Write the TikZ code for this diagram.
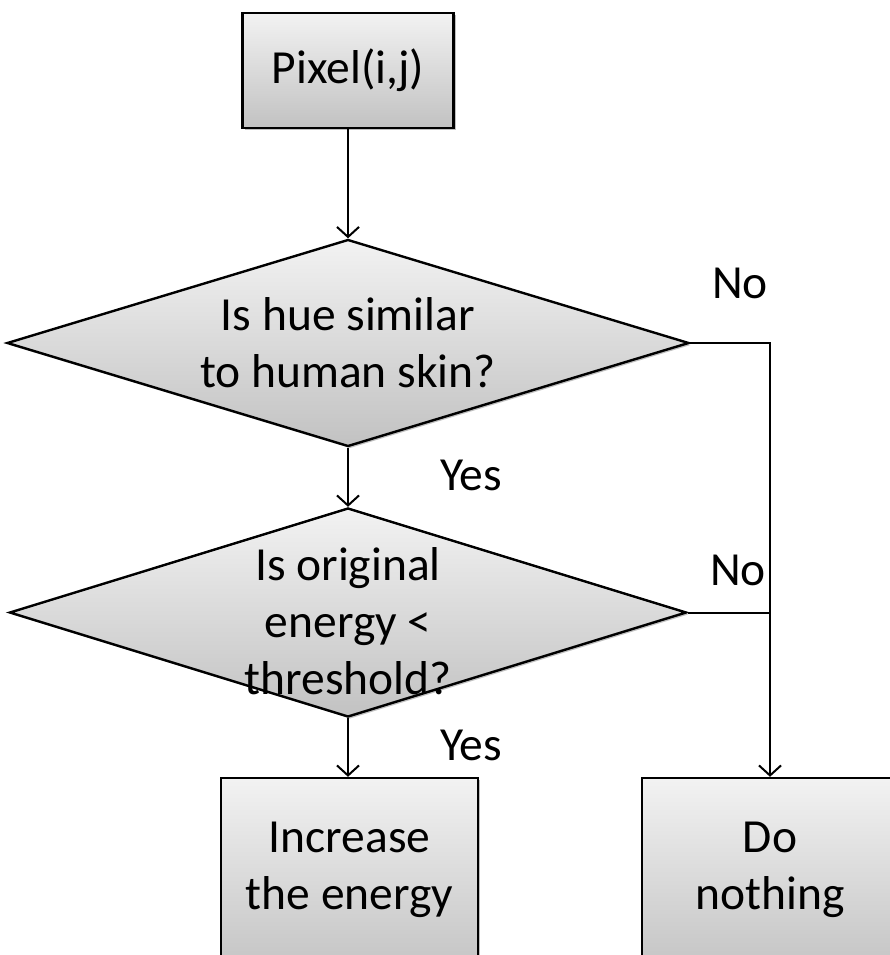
\documentclass[tikz,border=0pt]{standalone}
\usepackage{fontspec}
\setmainfont{Carlito}
\usetikzlibrary{shapes.geometric,arrows.meta,shadows}
\begin{document}
\begin{tikzpicture}[x=1pt,y=1pt,
  font=\fontsize{47.5}{57}\selectfont,
  shfill/.style={top color=white!95!black,bottom color=white!76!black,
    draw=black,line width=2.4pt,
    drop shadow={shadow xshift=2pt,shadow yshift=-2pt,opacity=0.25,fill=black}},
  boxnode/.style={shfill,rectangle,inner sep=0pt},
  dia/.style={shfill,diamond,inner sep=0pt},
  conn/.style={line width=2pt,draw=black},
  arr/.style={conn,-{Straight Barb[length=10pt,width=22pt,line width=2pt]}},
  lbl/.style={inner sep=0pt,align=center}]
\useasboundingbox (0,0) rectangle (890,-955);
\node[boxnode,minimum width=211,minimum height=115] (pix) at (348,-70.5) {};
\node[lbl] (pixt) at (pix.center) {Pixel(i,j)};
\node[dia,minimum width=682,minimum height=207] (d1) at (348,-343) {};
\node[lbl] (d1t) at (348,-343) {Is hue similar\\to human skin?};
\node[dia,minimum width=677,minimum height=209] (d2) at (348,-612.5) {};
\node[lbl] (d2t) at (348,-621) {Is original\\energy <\\threshold?};
\node[boxnode,minimum width=257,minimum height=200] (inc) at (349.5,-878) {};
\node[lbl] (inct) at (349.5,-870) {Increase\\the energy};
\node[boxnode,minimum width=256,minimum height=200] (dn) at (770,-878) {};
\node[lbl] (dnt) at (770,-870) {Do\\nothing};
\node[lbl] (no1) at (740,-283) {No};
\node[lbl] (no2) at (738,-570) {No};
\node[lbl] (yes1) at (471,-475) {Yes};
\node[lbl] (yes2) at (471,-745) {Yes};
\draw[arr] (pix.south) -- (d1.north);
\draw[arr] (d1.south) -- (d2.north);
\draw[arr] (d2.south) -- (d2.south |- inc.north);
\draw[arr] (d1.east) -| (dn.north);
\draw[conn] (d2.east) -- (d2.east -| dn.north);
\end{tikzpicture}
\end{document}
